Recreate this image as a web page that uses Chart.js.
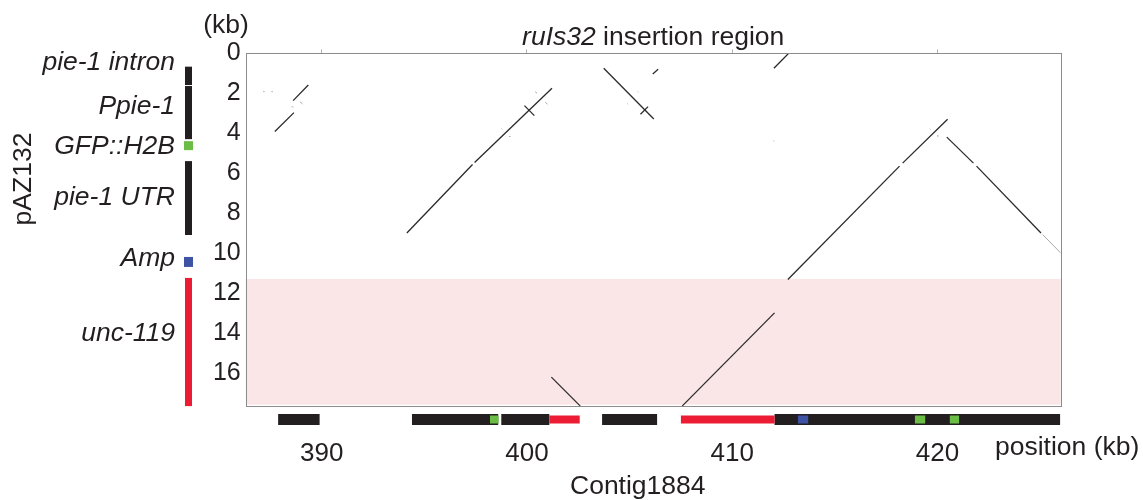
<!DOCTYPE html>
<html>
<head>
<meta charset="utf-8" />
<title>ruIs32 insertion region</title>
<script src="https://cdn.jsdelivr.net/npm/chart.js@4/dist/chart.umd.min.js"></script>
<style>
  html, body { margin: 0; padding: 0; background: #fff; }
  canvas { display: block; }
</style>
</head>
<body>
<canvas id="dotPlotChart" width="1143" height="500"></canvas>
<script>
// Contig1884 position (kb) vs pAZ132 position (kb)
const contigRange = [386.3, 426.0];
const plasmidRange = [0, 17.7];
const contigTicks = [390, 400, 410, 420];
const plasmidTicks = [0, 2, 4, 6, 8, 10, 12, 14, 16];

// matches as [contigStart, plasmidStart, contigEnd, plasmidEnd]
const strongHits = [
  [389.35, 1.59, 388.61, 2.37],
  [388.65, 2.97, 387.72, 3.92],
  [401.22, 1.75, 397.45, 5.47],
  [397.35, 5.57, 394.15, 9.0],
  [399.88, 2.62, 400.36, 3.12],
  [403.74, 0.75, 406.18, 3.29],
  [405.53, 3.05, 405.9, 2.67],
  [406.13, 1.04, 406.39, 0.8],
  [412.03, 0.75, 412.75, 0.0],
  [420.49, 3.3, 418.3, 5.5],
  [418.15, 5.65, 412.71, 11.33],
  [420.45, 4.2, 421.75, 5.5],
  [421.9, 5.65, 425.04, 9.0],
  [412.06, 13.0, 407.56, 17.67],
  [401.19, 16.22, 402.6, 17.67],
];
const weakHits = [
  [387.15, 1.92, 387.22, 1.92],
  [387.55, 1.92, 387.62, 1.92],
  [388.54, 2.64, 388.61, 2.72],
  [388.94, 2.42, 389.07, 2.54],
  [400.4, 1.92, 400.49, 2.0],
  [400.89, 2.45, 401.0, 2.55],
  [398.76, 3.77, 398.8, 3.81],
  [399.13, 4.15, 399.17, 4.19],
  [405.39, 1.9, 405.43, 1.94],
  [404.89, 2.52, 404.93, 2.56],
  [412.01, 4.37, 412.05, 4.41],
  [419.62, 3.78, 419.66, 3.82],
  [419.98, 4.12, 420.02, 4.16],
  [425.12, 9.08, 426.0, 10.0],
];

// unc-119 block of pAZ132 (kb)
const uncBand = [11.3, 17.6];

// pAZ132 features along the y axis (kb)
const plasmidBlack = [[0.67, 1.59], [1.64, 4.3], [5.4, 9.1]];
const plasmidGreen = [[4.4, 4.85]];
const plasmidBlue = [[10.2, 10.7]];
const plasmidRed = [[11.25, 17.67]];
const plasmidLabels = ["pie-1 intron", "Ppie-1", "GFP::H2B", "pie-1 UTR", "Amp", "unc-119"];
const plasmidLabelPos = [0.45, 2.67, 4.67, 7.25, 10.3, 14.03];

// Contig1884 features along the x axis (kb)
const contigBlack = [[387.88, 389.9], [394.4, 398.6], [398.75, 401.09], [403.66, 406.34], [412.06, 425.97]];
const contigRed = [[401.09, 402.57], [407.5, 412.06]];
const contigGreen = [[398.2, 398.62], [418.9, 419.4], [420.6, 421.05]];
const contigBlue = [[413.2, 413.7]];

const FONT = "'Liberation Sans', Arial, Helvetica, sans-serif";
const INK = "#231f20";
const BLACK = "#231f20";
const RED = "#ec1c35";
const GREEN = "#6cbd45";
const BLUE = "#3e53a4";
const TEXT_SIZE = 26.5;

function toDataset(seg, color, width) {
  return {
    data: [{ x: seg[0], y: seg[1] }, { x: seg[2], y: seg[3] }],
    showLine: true,
    borderColor: color,
    borderWidth: width,
    pointRadius: 0,
    pointHoverRadius: 0,
  };
}

const datasets = strongHits
  .map((s) => toDataset(s, "#2a2a2a", 1.3))
  .concat(weakHits.map((s) => toDataset(s, "#a8a8a8", 1)));

// pink band behind the matches, frame on top
const bandPlugin = {
  id: "band",
  beforeDatasetsDraw(chart) {
    const { ctx, chartArea, scales } = chart;
    const y0 = scales.y.getPixelForValue(uncBand[0]);
    const y1 = scales.y.getPixelForValue(uncBand[1]);
    ctx.save();
    ctx.fillStyle = "#fbe6e7";
    ctx.fillRect(chartArea.left, y0, chartArea.right - chartArea.left, y1 - y0);
    ctx.restore();
  },
  afterDatasetsDraw(chart) {
    const { ctx, chartArea } = chart;
    ctx.save();
    ctx.strokeStyle = "#8c8c8c";
    ctx.lineWidth = 1;
    ctx.strokeRect(
      Math.round(chartArea.left) + 0.5,
      Math.round(chartArea.top) + 0.5,
      Math.round(chartArea.right - chartArea.left),
      Math.round(chartArea.bottom - chartArea.top)
    );
    ctx.restore();
  },
};

// feature tracks, labels and title
const annotationPlugin = {
  id: "annotations",
  afterDraw(chart) {
    const { ctx, chartArea, scales } = chart;
    const x = scales.x;
    const y = scales.y;
    ctx.save();

    // plasmid track on the left
    const vbar = (ranges, color, x0, w) => {
      ctx.fillStyle = color;
      ranges.forEach((r) => {
        const a = y.getPixelForValue(r[0]);
        const b = y.getPixelForValue(r[1]);
        ctx.fillRect(x0, a, w, b - a);
      });
    };
    vbar(plasmidBlack, BLACK, 185, 7);
    vbar(plasmidRed, RED, 185, 7);
    vbar(plasmidGreen, GREEN, 184, 9);
    vbar(plasmidBlue, BLUE, 184, 9);

    ctx.fillStyle = INK;
    ctx.font = "italic " + TEXT_SIZE + "px " + FONT;
    ctx.textAlign = "right";
    ctx.textBaseline = "middle";
    plasmidLabels.forEach((t, i) => {
      ctx.fillText(t, 175, y.getPixelForValue(plasmidLabelPos[i]));
    });

    ctx.font = TEXT_SIZE + "px " + FONT;
    ctx.save();
    ctx.translate(24, 179);
    ctx.rotate(-Math.PI / 2);
    ctx.textAlign = "center";
    ctx.fillText("pAZ132", 0, 0);
    ctx.restore();

    // contig track along the bottom
    const hbar = (ranges, color, top, h) => {
      ctx.fillStyle = color;
      ranges.forEach((r) => {
        const a = x.getPixelForValue(r[0]);
        const b = x.getPixelForValue(r[1]);
        ctx.fillRect(a, top, b - a, h);
      });
    };
    hbar(contigBlack, BLACK, 414, 11);
    hbar(contigRed, RED, 415.5, 8);
    hbar(contigGreen, GREEN, 415.5, 8);
    hbar(contigBlue, BLUE, 415.5, 8);

    ctx.fillStyle = INK;
    ctx.font = TEXT_SIZE + "px " + FONT;
    ctx.textAlign = "center";
    ctx.fillText("(kb)", 226, 26);
    ctx.textAlign = "left";
    ctx.fillText("position (kb)", 995, 448);
    ctx.fillText("Contig1884", 570, 487);

    // title: italic transgene name followed by plain text
    const part1 = "ruIs32";
    const part2 = " insertion region";
    ctx.font = "italic " + TEXT_SIZE + "px " + FONT;
    const w1 = ctx.measureText(part1).width;
    ctx.font = TEXT_SIZE + "px " + FONT;
    const w2 = ctx.measureText(part2).width;
    const cx = (chartArea.left + chartArea.right) / 2;
    const start = cx - (w1 + w2) / 2;
    ctx.font = "italic " + TEXT_SIZE + "px " + FONT;
    ctx.fillText(part1, start, 38);
    ctx.font = TEXT_SIZE + "px " + FONT;
    ctx.fillText(part2, start + w1, 38);

    ctx.restore();
  },
};

const ctxDotPlot = document.getElementById("dotPlotChart").getContext("2d");
const dotPlotChart = new Chart(ctxDotPlot, {
  type: "scatter",
  data: { datasets: datasets },
  options: {
    responsive: false,
    animation: false,
    devicePixelRatio: 1,
    layout: {
      padding: { left: 195.7, right: 82.3, top: 49.3, bottom: 23.3 },
    },
    scales: {
      x: {
        type: "linear",
        position: "bottom",
        min: contigRange[0],
        max: contigRange[1],
        afterBuildTicks: (scale) => {
          scale.ticks = contigTicks.map((v) => ({ value: v }));
        },
        afterFit: (scale) => {
          scale.height = 70;
        },
        ticks: {
          autoSkip: false,
          maxRotation: 0,
          padding: 24,
          color: INK,
          font: { family: FONT, size: 26 },
        },
        grid: { display: false },
        border: { display: false },
      },
      xTop: {
        type: "linear",
        position: "top",
        min: contigRange[0],
        max: contigRange[1],
        afterBuildTicks: (scale) => {
          scale.ticks = contigTicks.map((v) => ({ value: v }));
        },
        afterFit: (scale) => {
          scale.height = 4;
        },
        ticks: { display: false },
        grid: {
          drawOnChartArea: false,
          drawTicks: true,
          tickLength: 4,
          color: "#b5b5b5",
        },
        border: { display: false },
      },
      y: {
        type: "linear",
        reverse: true,
        min: plasmidRange[0],
        max: plasmidRange[1],
        afterBuildTicks: (scale) => {
          scale.ticks = plasmidTicks.map((v) => ({ value: v }));
        },
        afterFit: (scale) => {
          scale.width = 50;
        },
        ticks: {
          autoSkip: false,
          padding: 5,
          color: INK,
          font: { family: FONT, size: 25 },
        },
        grid: { display: false, drawTicks: false },
        border: { display: false },
      },
    },
    plugins: {
      legend: { display: false },
      tooltip: { enabled: false },
      title: { display: false },
    },
  },
  plugins: [bandPlugin, annotationPlugin],
});
</script>
</body>
</html>
